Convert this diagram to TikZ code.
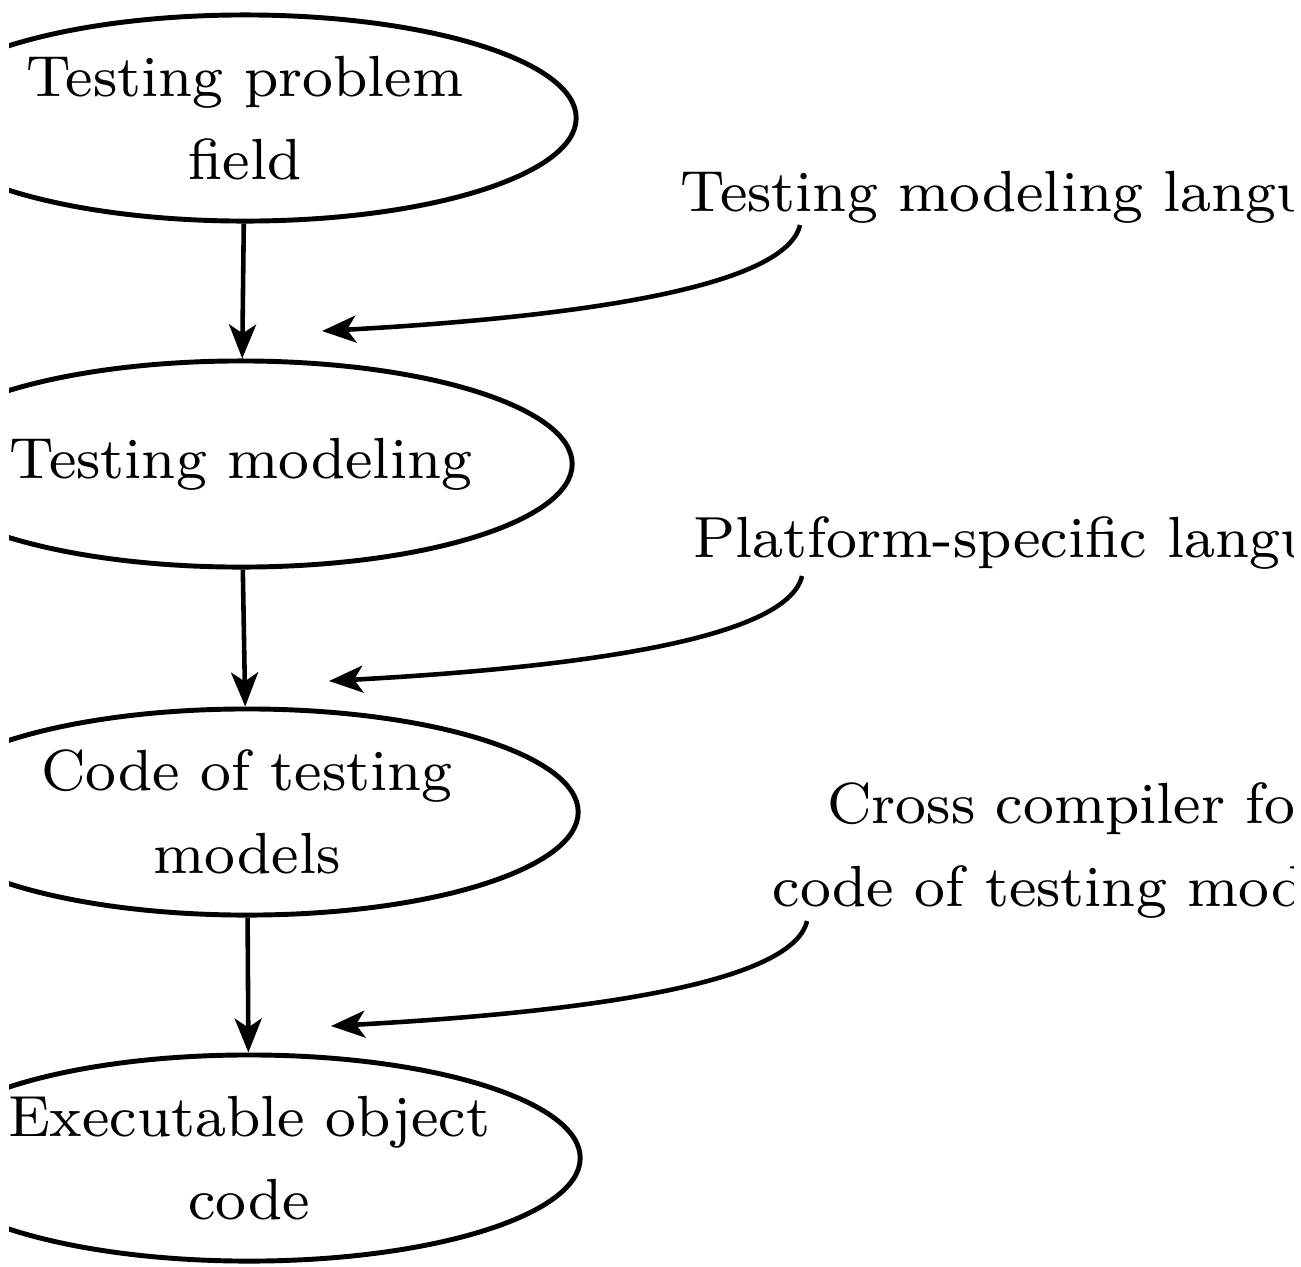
\documentclass[tikz,border=0pt]{standalone}
\usepackage{fontspec}
\setmainfont{lmroman8-regular.otf}
\usetikzlibrary{shapes.geometric,arrows.meta}
\newcommand\fsz{\fontsize{16.5}{23.6}\selectfont}
\begin{document}
\begin{tikzpicture}[x=0.01cm,y=-0.01cm,
  stage/.style={ellipse, draw, line width=1.4pt, minimum width=6.62cm, minimum height=2.06cm, inner xsep=-0.5cm, inner ysep=0pt, align=center, font=\fsz},
  lbl/.style={anchor=west, align=center, font=\fsz, inner sep=0pt},
  arr/.style={line width=1.3pt, -{Stealth[length=0.34cm,width=0.27cm,inset=0.09cm]}}]
\useasboundingbox (0,0) rectangle (1301,1266);
\clip (9,0) rectangle (1293,1266);
\node[stage] (e1) at (245,118) {Testing problem\\field};
\node[stage] (e2) at (241,464) {Testing modeling};
\node[stage] (e3) at (247,812) {Code of testing\\models};
\node[stage] (e4) at (249,1158) {Executable object\\code};
\node[lbl] (l1) at (680,197) {Testing modeling language};
\node[lbl] (l2) at (693,543) {Platform-specific language};
\node[lbl] (l3) at (772,850) {Cross compiler for\\code of testing models};
\draw[arr] (e1) -- (e2);
\draw[arr] (e2) -- (e3);
\draw[arr] (e3) -- (e4);
\coordinate (s1) at (800,225); \coordinate (t1) at (322,331);
\coordinate (s2) at (802,576); \coordinate (t2) at (329,681);
\coordinate (s3) at (807,921); \coordinate (t3) at (331,1026);
\draw[arr] (s1) .. controls (785,290) and (560,318) .. (t1);
\draw[arr] (s2) .. controls (787,641) and (567,668) .. (t2);
\draw[arr] (s3) .. controls (792,986) and (569,1013) .. (t3);
\end{tikzpicture}
\end{document}
